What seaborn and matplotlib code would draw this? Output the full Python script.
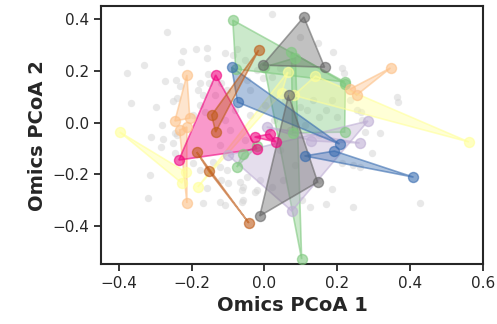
import numpy as np
import pandas as pd
import matplotlib
matplotlib.use("Agg")
import matplotlib.pyplot as plt
import seaborn as sns

# ------------------------------------------------------------
# background samples (all other subjects)
# ------------------------------------------------------------
bg_x = [0.022, -0.268, -0.224, -0.188, -0.158, -0.230, -0.331, -0.378, -0.158, -0.109,
        -0.076, -0.087, -0.274, -0.244, -0.233, -0.178, -0.156, -0.151, -0.118, -0.367,
        -0.298, -0.252, -0.241, -0.183, -0.170, -0.178, -0.164, -0.282, -0.246, -0.197,
        -0.054, -0.049, -0.021, -0.005, 0.020, 0.042, -0.041, -0.104,
        0.097, 0.148, 0.187, 0.212, 0.217, 0.363, 0.366, 0.253, 0.266, 0.316,
        0.132, 0.170, 0.116, 0.097, 0.234, 0.269, 0.198, 0.151, 0.184,
        0.275, 0.294, 0.426, 0.184, 0.242, 0.170, 0.124, 0.261, 0.212, 0.242, 0.102, 0.151,
        -0.312, -0.279, -0.285, -0.246, -0.315, -0.320, -0.252, -0.170, -0.123, -0.107,
        -0.063, -0.159, -0.118, -0.101, -0.068, -0.060, -0.021, -0.123, -0.142, -0.104,
        -0.241, -0.197, -0.178,
        -0.049, -0.013, -0.063, -0.027, -0.060, 0.022, 0.050,
        -0.082, -0.041, 0.001, 0.027, 0.055, -0.096, -0.054, 0.042, 0.083, -0.137,
        -0.109, 0.069, 0.110, 0.151, -0.123]
bg_y = [0.419, 0.350, 0.276, 0.284, 0.288, 0.234, 0.222, 0.191, 0.249, 0.269,
        0.284, 0.261, 0.160, 0.164, 0.141, 0.153, 0.187, 0.153, 0.153, 0.075,
        0.060, 0.083, 0.095, 0.126, 0.106, 0.068, 0.041, -0.010, -0.041, 0.029,
        0.242, 0.164, 0.203, 0.172, 0.176, 0.211, 0.126, 0.126,
        0.330, 0.307, 0.272, 0.211, 0.191, 0.099, 0.079, 0.048, 0.041, -0.041,
        0.087, 0.048, 0.048, 0.060, 0.087, 0.010, 0.021, 0.021, 0.087,
        -0.037, -0.118, -0.311, -0.257, -0.327, -0.315, -0.327, -0.172, -0.157, -0.164, -0.300, -0.222,
        -0.056, -0.064, -0.095, -0.118, -0.203, -0.292, -0.079, -0.311, -0.307, -0.319,
        -0.307, -0.253, -0.222, -0.234, -0.230, -0.249, -0.261, -0.172, -0.153, -0.184,
        -0.048, -0.157, -0.184,
        -0.211, -0.222, -0.261, -0.269, -0.300, -0.249, -0.222,
        0.048, 0.029, 0.068, 0.010, 0.087, -0.029, -0.068, -0.106, -0.164, 0.106,
        0.010, -0.029, -0.010, -0.048, -0.087]

# ------------------------------------------------------------
# highlighted subjects: replicate sets (one polygon per set)
# ------------------------------------------------------------
subjects = ["S1", "S2", "S3", "S4", "S5", "S6", "S7", "S8"]

pt_subject = (["S1"] * 3 + ["S1"] * 4 + ["S1"] * 3 + ["S1"] * 3 +
              ["S2"] * 3 + ["S2"] * 3 +
              ["S3"] * 3 + ["S3"] * 3 + ["S3"] * 3 +
              ["S4"] * 3 + ["S4"] * 3 + ["S4"] * 3 +
              ["S5"] * 3 + ["S5"] * 3 +
              ["S6"] * 3 + ["S6"] * 3 +
              ["S7"] * 3 + ["S7"] * 3 +
              ["S8"] * 3 + ["S8"] * 3)
pt_set = ([1] * 3 + [2] * 4 + [3] * 3 + [4] * 3 +
          [1] * 3 + [2] * 3 +
          [1] * 3 + [2] * 3 + [3] * 3 +
          [1] * 3 + [2] * 3 + [3] * 3 +
          [1] * 3 + [2] * 3 +
          [1] * 3 + [2] * 3 +
          [1] * 3 + [2] * 3 +
          [1] * 3 + [2] * 3)
pt_x = [-0.087, 0.220, -0.079,   0.074, 0.222, 0.220, 0.077,   0.000, 0.085, 0.102,   -0.076, -0.020, -0.060,
        0.284, -0.100, 0.075,   0.006, 0.129, 0.261,
        -0.213, -0.246, -0.205,   -0.213, -0.213, -0.233,   0.234, 0.253, 0.346,
        -0.397, -0.227, -0.216,   -0.183, 0.064, 0.047,   0.140, 0.561, 0.080,
        -0.090, -0.074, 0.206,   0.110, 0.192, 0.409,
        -0.134, -0.235, -0.021,   -0.027, 0.014, 0.031,
        -0.016, -0.145, -0.134,   -0.186, -0.153, -0.043,
        0.108, 0.165, -0.005,   0.066, 0.146, -0.013]
pt_y = [0.396, 0.157, 0.207,   0.272, 0.150, -0.037, -0.040,   0.215, 0.250, -0.528,   -0.172, -0.090, -0.120,
        0.006, -0.126, -0.342,   -0.017, -0.071, -0.079,
        0.184, 0.006, 0.017,   -0.017, -0.311, -0.029,   0.129, 0.106, 0.211,
        -0.037, -0.234, -0.191,   -0.249, 0.195, 0.114,   0.180, -0.075, 0.105,
        0.214, 0.079, -0.083,   -0.129, -0.110, -0.211,
        0.184, -0.145, -0.102,   -0.056, -0.044, -0.075,
        0.280, 0.029, -0.037,   -0.114, -0.187, -0.388,
        0.408, 0.214, 0.222,   0.106, -0.230, -0.361]

samples = pd.DataFrame({"subject": pt_subject, "set": pt_set, "x": pt_x, "y": pt_y})

# ------------------------------------------------------------
# plot
# ------------------------------------------------------------
sns.set_theme(style="ticks")
palette = dict(zip(subjects, sns.color_palette("Accent", 8)))

fig, ax = plt.subplots(figsize=(4.97, 3.24), dpi=100)
fig.subplots_adjust(left=0.203, right=0.972, bottom=0.185, top=0.981)

sns.scatterplot(x=bg_x, y=bg_y, color="lightgray", alpha=0.5, s=28,
                linewidth=0, ax=ax, zorder=1)

for (subj, rep), d in samples.groupby(["subject", "set"], sort=False):
    c = palette[subj]
    ax.fill(d["x"], d["y"], facecolor=c, edgecolor="none", alpha=0.4, zorder=2)
    ax.fill(d["x"], d["y"], facecolor="none", edgecolor=c, alpha=0.6, lw=1.2, zorder=2)

for subj in subjects:
    d = samples[samples["subject"] == subj]
    sns.scatterplot(data=d, x="x", y="y", color=palette[subj], edgecolor=palette[subj],
                    s=52, alpha=0.6, linewidth=1, legend=False, ax=ax, zorder=3)

ax.set_xlim(-0.449, 0.6)
ax.set_ylim(-0.547, 0.45)
ax.set_xticks([-0.4, -0.2, 0.0, 0.2, 0.4, 0.6])
ax.set_yticks([-0.4, -0.2, 0.0, 0.2, 0.4])
ax.set_xlabel("Omics PCoA 1", fontsize=14, fontweight="bold")
ax.set_ylabel("Omics PCoA 2", fontsize=14, fontweight="bold")
ax.tick_params(labelsize=11, length=5, width=1.3)
for sp in ax.spines.values():
    sp.set_linewidth(1.5)

fig.savefig("out.png", dpi=100)
